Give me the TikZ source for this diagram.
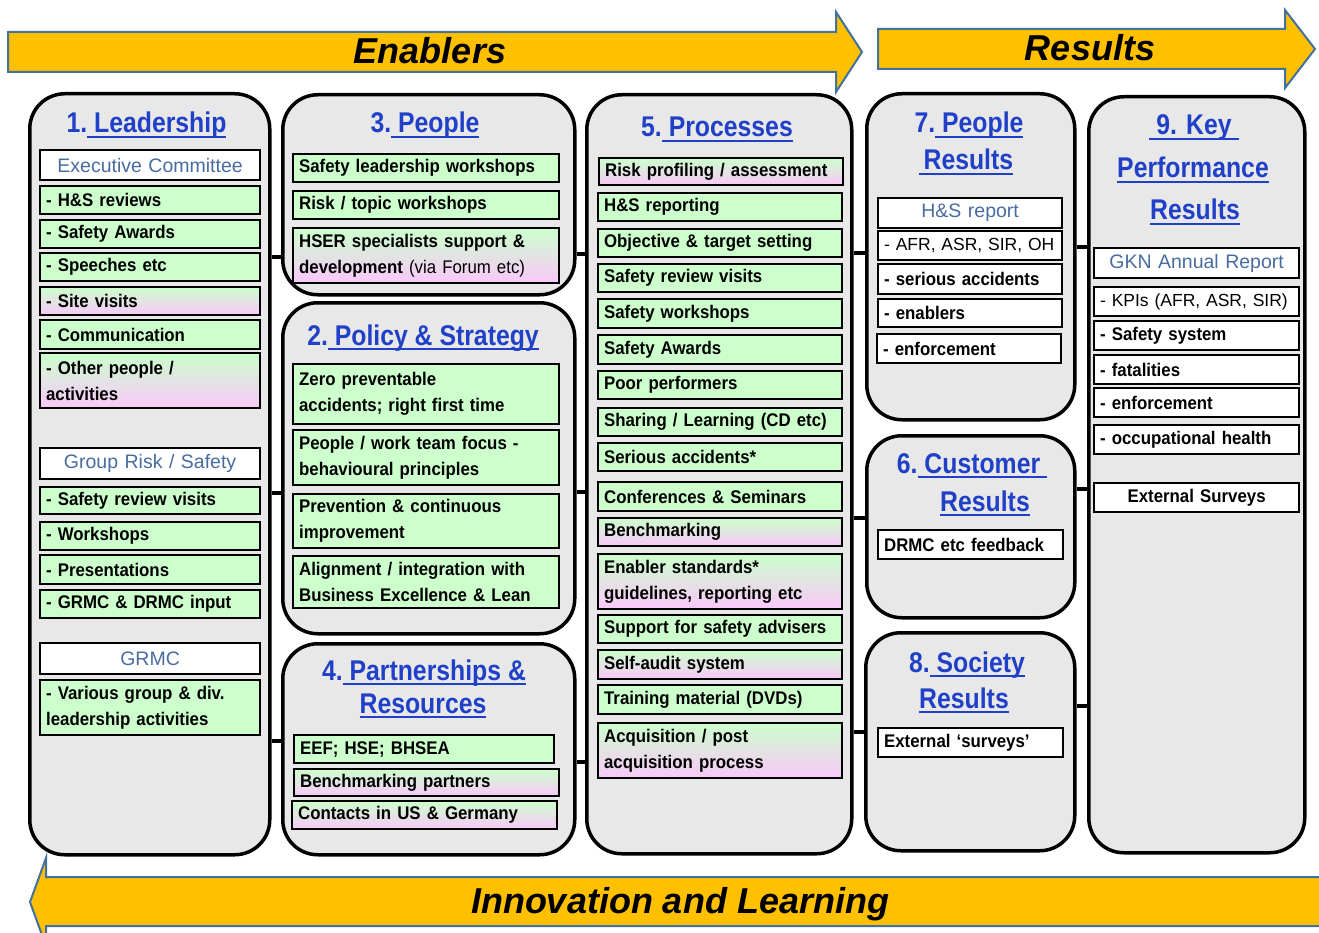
\documentclass[tikz,border=0pt]{standalone}
\usepackage{fontspec}
\setmainfont{Liberation Sans}
\newfontfamily\ttlfont[FakeStretch=0.87]{Liberation Sans}
\newfontfamily\bxfont[FakeStretch=0.92]{Liberation Sans}
\usetikzlibrary{calc}
\definecolor{boxgreen}{RGB}{204,255,204}
\definecolor{boxpink}{RGB}{250,200,250}
\definecolor{colgray}{RGB}{232,232,232}
\definecolor{titleblue}{RGB}{32,64,200}
\definecolor{hdrblue}{RGB}{72,108,160}
\definecolor{arrowfill}{RGB}{255,192,0}
\definecolor{arrowdraw}{RGB}{65,113,156}
\newcommand\ulx[1]{\setbox0\hbox{#1}\rlap{\rule[-5pt]{\wd0}{1.6pt}}\box0}
\newcommand\mkbox[7]{%
  \pgfmathsetmacro\bxw{#5-#3}%
  \pgfmathsetmacro\bxh{#6-#4}%
  \pgfmathsetmacro\bxt{#5-#3-12}%
  \node[#2, anchor=north west, minimum width=\bxw pt, minimum height=\bxh pt, text width=\bxt pt] (#1) at (#3,#4) {#7};}
\newcommand\mkcol[5]{%
  \pgfmathsetmacro\bxw{#4-#2}%
  \pgfmathsetmacro\bxh{#5-#3}%
  \node[colbox, anchor=north west, minimum width=\bxw pt, minimum height=\bxh pt] (#1) at (#2,#3) {};}
\tikzset{
  colbox/.style={draw=black, line width=3.5pt, fill=colgray, rounded corners=35pt, inner sep=0pt},
  gbox/.style={draw=black, line width=2.2pt, fill=boxgreen, inner xsep=6pt, inner ysep=0pt, align=left,
    font=\bxfont\bfseries\fontsize{18.3}{26}\selectfont},
  pbox/.style={gbox, top color=boxgreen, bottom color=boxpink},
  wbox/.style={gbox, fill=white},
  rbox/.style={wbox, font=\fontsize{17.5}{22}\selectfont},
  hbox/.style={wbox, align=center, text=hdrblue, font=\fontsize{19.5}{22}\selectfont},
  cbox/.style={wbox, align=center},
  title/.style={font=\ttlfont\bfseries\fontsize{28.5}{30}\selectfont, text=titleblue, inner sep=0pt, anchor=base},
  head/.style={font=\bfseries\itshape\fontsize{36}{40}\selectfont, inner sep=0pt, anchor=base},
  bigarrow/.style={fill=arrowfill, draw=arrowdraw, line width=2pt, line join=miter},
  conn/.style={draw=black, line width=3.5pt}
}
\begin{document}
\begin{tikzpicture}[x=1pt,y=-1pt]
\useasboundingbox (0,0) rectangle (1319,933);
\fill[white] (0,0) rectangle (1319,933);
% top and bottom arrows
\path[bigarrow] (8,32) -- (836,32) -- (836,12) -- (862,52) -- (836,92) -- (836,72) -- (8,72) -- cycle;
\node[head] (hEn) at (430,64) {Enablers};
\path[bigarrow] (878,29) -- (1285,29) -- (1285,10) -- (1315,49) -- (1285,88) -- (1285,69) -- (878,69) -- cycle;
\node[head] (hRe) at (1090,61) {Results};
\path[bigarrow] (1335,877) -- (46,877) -- (46,858) -- (30,902) -- (46,946) -- (46,926) -- (1335,926) -- cycle;
\node[head] (hIn) at (680,913) {Innovation and Learning};

% columns
\mkcol{c1}{28}{92}{268}{853}
\mkcol{c3}{281}{93}{573}{293}
\mkcol{c2}{281}{301}{573}{632}
\mkcol{c4}{281}{642}{573}{853}
\mkcol{c5}{585}{93}{850}{852}
\mkcol{c7}{865}{92}{1073}{418}
\mkcol{c6}{865}{434}{1073}{616}
\mkcol{c8}{864}{631}{1073}{849}
\mkcol{c9}{1087}{95}{1303}{851}

% connectors
\coordinate (k1) at (0,257); \coordinate (k2) at (0,493); \coordinate (k3) at (0,741);
\coordinate (k4) at (0,254); \coordinate (k5) at (0,492); \coordinate (k6) at (0,762);
\coordinate (k7) at (0,253); \coordinate (k8) at (0,518); \coordinate (k9) at (0,732);
\coordinate (k10) at (0,247); \coordinate (k11) at (0,489); \coordinate (k12) at (0,706);
\draw[conn] (c1.east|-k1) -- (c3.west|-k1);
\draw[conn] (c1.east|-k2) -- (c2.west|-k2);
\draw[conn] (c1.east|-k3) -- (c4.west|-k3);
\draw[conn] (c3.east|-k4) -- (c5.west|-k4);
\draw[conn] (c2.east|-k5) -- (c5.west|-k5);
\draw[conn] (c4.east|-k6) -- (c5.west|-k6);
\draw[conn] (c5.east|-k7) -- (c7.west|-k7);
\draw[conn] (c5.east|-k8) -- (c6.west|-k8);
\draw[conn] (c5.east|-k9) -- (c8.west|-k9);
\draw[conn] (c7.east|-k10) -- (c9.west|-k10);
\draw[conn] (c6.east|-k11) -- (c9.west|-k11);
\draw[conn] (c8.east|-k12) -- (c9.west|-k12);

% titles
\node[title] (t1) at (146.5,133) {1.\ulx{\ Leadership}};
\node[title] (t3) at (425,133) {3.\ulx{\ People}};
\node[title] (t2) at (423,345) {2.\ulx{\ Policy \& Strategy}};
\node[title] (t4a) at (424,680) {4.\ulx{\ Partnerships \&}};
\node[title] (t4b) at (423,713) {\ulx{Resources}};
\node[title] (t5) at (717,137) {5.\ulx{\ Processes}};
\node[title] (t7a) at (969,133) {7.\ulx{\ People}};
\node[title] (t7b) at (966,170) {\ulx{\,Results}};
\node[title] (t9a) at (1194,135) {\ulx{\ 9. Key\ }};
\node[title] (t9b) at (1193,178) {\ulx{Performance}};
\node[title] (t9c) at (1195,220) {\ulx{Results}};
\node[title] (t6a) at (972,473) {6.\ulx{\ Customer\ }};
\node[title] (t6b) at (985,511) {\ulx{Results}};
\node[title] (t8a) at (967,672) {8.\ulx{\ Society}};
\node[title] (t8b) at (964,708) {\ulx{Results}};

% column 1
\mkbox{a1}{hbox}{39}{149}{259}{179}{Executive Committee}
\mkbox{a2}{gbox}{39}{185}{259}{213}{- H\&S reviews}
\mkbox{a3}{gbox}{39}{219}{259}{247}{- Safety Awards}
\mkbox{a4}{gbox}{39}{252}{259}{280}{- Speeches etc}
\mkbox{a5}{pbox}{39}{286}{259}{314}{- Site visits}
\mkbox{a6}{gbox}{39}{319}{259}{348}{- Communication}
\mkbox{a7}{pbox}{39}{352}{259}{407}{- Other people /\\activities}
\mkbox{a8}{hbox}{39}{447}{259}{478}{Group Risk / Safety}
\mkbox{a9}{gbox}{39}{486}{259}{513}{- Safety review visits}
\mkbox{a10}{gbox}{39}{521}{259}{549}{- Workshops}
\mkbox{a11}{gbox}{39}{554}{259}{583}{- Presentations}
\mkbox{a12}{gbox}{39}{589}{259}{617}{- GRMC \& DRMC input}
\mkbox{a13}{hbox}{39}{642}{259}{673}{GRMC}
\mkbox{a14}{gbox}{39}{679}{259}{734}{- Various group \& div.\\leadership activities}

% column 3 / 2 / 4
\mkbox{b1}{gbox}{292}{153}{558}{181}{Safety leadership workshops}
\mkbox{b2}{gbox}{292}{190}{558}{218}{Risk / topic workshops}
\mkbox{b3}{pbox}{292}{227}{558}{282}{HSER specialists support \&\\development {\mdseries (via Forum etc)}}
\mkbox{b4}{gbox}{292}{363}{558}{423}{Zero preventable\\accidents; right first time}
\mkbox{b5}{gbox}{292}{429}{558}{484}{People / work team focus -\\behavioural principles}
\mkbox{b6}{gbox}{292}{493}{558}{547}{Prevention \& continuous\\improvement}
\mkbox{b7}{gbox}{292}{555}{558}{607}{Alignment / integration with\\Business Excellence \& Lean}
\mkbox{b8}{gbox}{293}{734}{553}{762}{EEF; HSE; BHSEA}
\mkbox{b9}{pbox}{293}{768}{558}{795}{Benchmarking partners}
\mkbox{b10}{pbox}{291}{800}{556}{828}{Contacts in US \& Germany}

% column 5
\mkbox{d1}{pbox}{598}{157}{842}{184}{Risk profiling / assessment}
\mkbox{d2}{gbox}{597}{192}{841}{220}{H\&S reporting}
\mkbox{d3}{gbox}{597}{228}{841}{256}{Objective \& target setting}
\mkbox{d4}{gbox}{597}{263}{841}{291}{Safety review visits}
\mkbox{d5}{gbox}{597}{298}{841}{327}{Safety workshops}
\mkbox{d6}{gbox}{597}{334}{841}{363}{Safety Awards}
\mkbox{d7}{gbox}{597}{370}{841}{398}{Poor performers}
\mkbox{d8}{gbox}{597}{407}{841}{435}{Sharing / Learning (CD etc)}
\mkbox{d9}{gbox}{597}{442}{841}{470}{Serious accidents*}
\mkbox{d10}{gbox}{597}{481}{841}{510}{Conferences \& Seminars}
\mkbox{d11}{pbox}{597}{517}{841}{545}{Benchmarking}
\mkbox{d12}{pbox}{597}{553}{841}{608}{Enabler standards*\\guidelines, reporting etc}
\mkbox{d13}{gbox}{597}{614}{841}{642}{Support for safety advisers}
\mkbox{d14}{pbox}{597}{649}{841}{678}{Self-audit system}
\mkbox{d15}{gbox}{597}{684}{841}{713}{Training material (DVDs)}
\mkbox{d16}{pbox}{597}{722}{841}{777}{Acquisition / post\\acquisition process}

% column 7 / 6 / 8
\mkbox{e1}{hbox}{877}{197}{1061}{227}{H\&S report}
\mkbox{e2}{rbox}{877}{230}{1061}{259}{- AFR, ASR, SIR, OH}
\mkbox{e3}{wbox}{877}{263}{1061}{293}{- serious accidents}
\mkbox{e4}{wbox}{877}{298}{1061}{326}{- enablers}
\mkbox{e5}{wbox}{876}{333}{1060}{362}{- enforcement}
\mkbox{f1}{wbox}{877}{529}{1062}{558}{DRMC etc feedback}
\mkbox{g1}{wbox}{877}{727}{1062}{756}{External ‘surveys’}

% column 9
\mkbox{h1}{hbox}{1093}{247}{1298}{277}{GKN Annual Report}
\mkbox{h2}{rbox}{1093}{286}{1298}{315}{- KPIs (AFR, ASR, SIR)}
\mkbox{h3}{wbox}{1093}{320}{1298}{349}{- Safety system}
\mkbox{h4}{wbox}{1093}{354}{1298}{383}{- fatalities}
\mkbox{h5}{wbox}{1093}{387}{1298}{416}{- enforcement}
\mkbox{h6}{wbox}{1093}{424}{1298}{453}{- occupational health}
\mkbox{h7}{cbox}{1093}{482}{1298}{511}{External Surveys}
\end{tikzpicture}
\end{document}
